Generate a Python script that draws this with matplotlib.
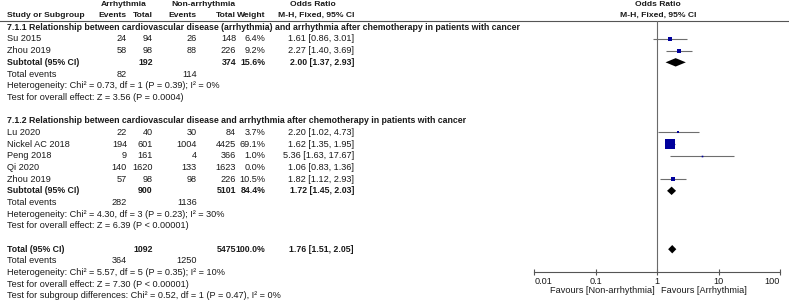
import numpy as np
import matplotlib
matplotlib.use("Agg")
import matplotlib.pyplot as plt

plt.rcParams['font.family'] = ['Liberation Sans', 'DejaVu Sans']
plt.rcParams['font.size'] = 6.6
BOLD_SIZE = 6.3
HEAD_SIZE = 6.1

# subgroup 7.1.1
studies1 = ["Su 2015", "Zhou 2019"]
ev_a1 = [24, 58]
tot_a1 = [94, 98]
ev_n1 = [26, 88]
tot_n1 = [148, 226]
w1 = [6.4, 9.2]
or1 = [1.61, 2.27]
lo1 = [0.86, 1.40]
hi1 = [3.01, 3.69]
sub1 = dict(tot_a=192, tot_n=374, w=15.6, est=2.00, lo=1.37, hi=2.93, ev_a=82, ev_n=114)

# subgroup 7.1.2
studies2 = ["Lu 2020", "Nickel AC 2018", "Peng 2018", "Qi 2020", "Zhou 2019"]
ev_a2 = [22, 194, 9, 140, 57]
tot_a2 = [40, 601, 161, 1620, 98]
ev_n2 = [30, 1004, 4, 133, 98]
tot_n2 = [84, 4425, 366, 1623, 226]
w2 = [3.7, 69.1, 1.0, 0.0, 10.5]
or2 = [2.20, 1.62, 5.36, 1.06, 1.82]
lo2 = [1.02, 1.35, 1.63, 0.83, 1.12]
hi2 = [4.73, 1.95, 17.67, 1.36, 2.93]
sub2 = dict(tot_a=900, tot_n=5101, w=84.4, est=1.72, lo=1.45, hi=2.03, ev_a=282, ev_n=1136)

total = dict(tot_a=1092, tot_n=5475, w=100.0, est=1.76, lo=1.51, hi=2.05, ev_a=364, ev_n=1250)

title1 = "7.1.1 Relationship between cardiovascular disease (arrhythmia) and arrhythmia after chemotherapy in patients with cancer"
title2 = "7.1.2 Relationship between cardiovascular disease and arrhythmia after chemotherapy in patients with cancer"
het1 = ["Heterogeneity: Chi\u00b2 = 0.73, df = 1 (P = 0.39); I\u00b2 = 0%",
        "Test for overall effect: Z = 3.56 (P = 0.0004)"]
het2 = ["Heterogeneity: Chi\u00b2 = 4.30, df = 3 (P = 0.23); I\u00b2 = 30%",
        "Test for overall effect: Z = 6.39 (P < 0.00001)"]
het_tot = ["Heterogeneity: Chi\u00b2 = 5.57, df = 5 (P = 0.35); I\u00b2 = 10%",
           "Test for overall effect: Z = 7.30 (P < 0.00001)",
           "Test for subgroup differences: Chi\u00b2 = 0.52, df = 1 (P = 0.47), I\u00b2 = 0%"]

ticks = [0.01, 0.1, 1, 10, 100]
tick_labels = ["0.01", "0.1", "1", "10", "100"]

W, H = 789, 303
fig = plt.figure(figsize=(W / 100, H / 100), dpi=100)

# row r sits at pixel 27.3 + 11.68*r from top
top_px, step = 27.3, 11.68
def px2row(p):
    return (p - top_px) / step

ax = fig.add_axes([0, 0, 1, 1])
ax.set_xlim(0, W)
ax.set_ylim(px2row(H), px2row(0))
ax.axis('off')

txt = '#1a1a1a'
x_ea, x_ta, x_en, x_tn, x_w, x_ci = 127, 152.7, 196.7, 236, 265.7, 354

# header
r_h1, r_h2 = px2row(4.7), px2row(15.7)
hd = dict(va='center', weight='bold', color=txt, fontsize=HEAD_SIZE)
ax.text(124, r_h1, "Arrhythmia", ha='center', **hd)
ax.text(203, r_h1, "Non-arrhythmia", ha='center', **hd)
ax.text(313, r_h1, "Odds Ratio", ha='center', **hd)
ax.text(658, r_h1, "Odds Ratio", ha='center', **hd)
ax.text(7, r_h2, "Study or Subgroup", ha='left', **hd)
for x, s in [(x_ea, "Events"), (x_ta, "Total"), (x_en, "Events"), (x_tn, "Total"),
             (x_w, "Weight"), (x_ci, "M-H, Fixed, 95% CI")]:
    ax.text(x, r_h2, s, ha='right', **hd)
ax.text(658, r_h2, "M-H, Fixed, 95% CI", ha='center', **hd)
ax.axhline(px2row(20.7), color='#555555', lw=0.8)


def row_vals(r, vals, bold=False):
    kw = dict(weight='bold', fontsize=BOLD_SIZE) if bold else {}
    for x, s in zip([x_ea, x_ta, x_en, x_tn, x_w, x_ci], vals):
        if s != "":
            ax.text(x, r, s, ha='right', va='center', color=txt, **kw)


def fmt_ci(e, l, h):
    return f"{e:.2f} [{l:.2f}, {h:.2f}]"


forest_rows = []  # (row, est, lo, hi, weight)
diamonds = []

def bold_label(r, s):
    ax.text(7, r, s, ha='left', va='center', weight='bold', fontsize=BOLD_SIZE, color=txt)

def block(r0, title, names, ea, ta, en, tn, w, est, lo, hi, sub, het):
    bold_label(r0, title)
    r = r0 + 1
    for i, n in enumerate(names):
        ax.text(7, r, n, ha='left', va='center', color=txt)
        row_vals(r, [str(ea[i]), str(ta[i]), str(en[i]), str(tn[i]), f"{w[i]:.1f}%",
                     fmt_ci(est[i], lo[i], hi[i])])
        forest_rows.append((r, est[i], lo[i], hi[i], w[i]))
        r += 1
    bold_label(r, "Subtotal (95% CI)")
    row_vals(r, ["", str(sub['tot_a']), "", str(sub['tot_n']), f"{sub['w']:.1f}%",
                 fmt_ci(sub['est'], sub['lo'], sub['hi'])], bold=True)
    diamonds.append((r, sub['est'], sub['lo'], sub['hi']))
    r += 1
    ax.text(7, r, "Total events", ha='left', va='center', color=txt)
    row_vals(r, [str(sub['ev_a']), "", str(sub['ev_n']), "", "", ""])
    for s in het:
        r += 1
        ax.text(7, r, s, ha='left', va='center', color=txt)
    return r


block(0, title1, studies1, ev_a1, tot_a1, ev_n1, tot_n1, w1, or1, lo1, hi1, sub1, het1)
block(8, title2, studies2, ev_a2, tot_a2, ev_n2, tot_n2, w2, or2, lo2, hi2, sub2, het2)

r = 19
bold_label(r, "Total (95% CI)")
row_vals(r, ["", str(total['tot_a']), "", str(total['tot_n']), f"{total['w']:.1f}%",
             fmt_ci(total['est'], total['lo'], total['hi'])], bold=True)
diamonds.append((r, total['est'], total['lo'], total['hi']))
ax.text(7, r + 1, "Total events", ha='left', va='center', color=txt)
row_vals(r + 1, [str(total['ev_a']), "", str(total['ev_n']), "", "", ""])
for k, s in enumerate(het_tot):
    ax.text(7, r + 2 + k, s, ha='left', va='center', color=txt)

r_fav = px2row(290.7)
ax.text(654.3, r_fav, "Favours [Non-arrhythmia]", ha='right', va='center', color=txt)
ax.text(661, r_fav, "Favours [Arrhythmia]", ha='left', va='center', color=txt)

# forest panel
x0, x1 = 534.3, 780
y_top, y_axis = 20.7, 272.3
fx = fig.add_axes([x0 / W, (H - y_axis) / H, (x1 - x0) / W, (y_axis - y_top) / H])
fx.patch.set_alpha(0)
fx.set_xscale('log')
fx.set_xlim(0.01, 100)
fx.set_ylim(px2row(y_axis), px2row(y_top))
for s in ['top', 'left', 'right']:
    fx.spines[s].set_visible(False)
fx.spines['bottom'].set_color('#555555')
fx.spines['bottom'].set_linewidth(0.8)
fx.set_yticks([])
fx.set_xticks(ticks)
fx.set_xticklabels(tick_labels)
fx.minorticks_off()
fx.tick_params(axis='x', direction='inout', length=4, width=0.8, color='#555555',
               pad=1.5, labelsize=6.6, labelcolor=txt)
lbls = fx.get_xticklabels()
lbls[0].set_horizontalalignment('left')
lbls[-1].set_horizontalalignment('right')
fx.axvline(1, color='#6a6a6a', lw=0.8)

for rr, e, l, h, w in forest_rows:
    if w <= 0:
        continue
    fx.plot([l, h], [rr, rr], color='#6e6e6e', lw=0.8, solid_capstyle='butt')
    side_px = max(1.6, 1.2 * np.sqrt(w))
    fx.plot([e], [rr], marker='s', ms=side_px * 0.72, color='#00009C', mec='#00009C', mew=0)

dh = 4.2 / step
for rr, e, l, h in diamonds:
    fx.fill([l, e, h, e], [rr, rr - dh, rr, rr + dh], color='black', lw=0)

fig.savefig("out.png", dpi=100)
